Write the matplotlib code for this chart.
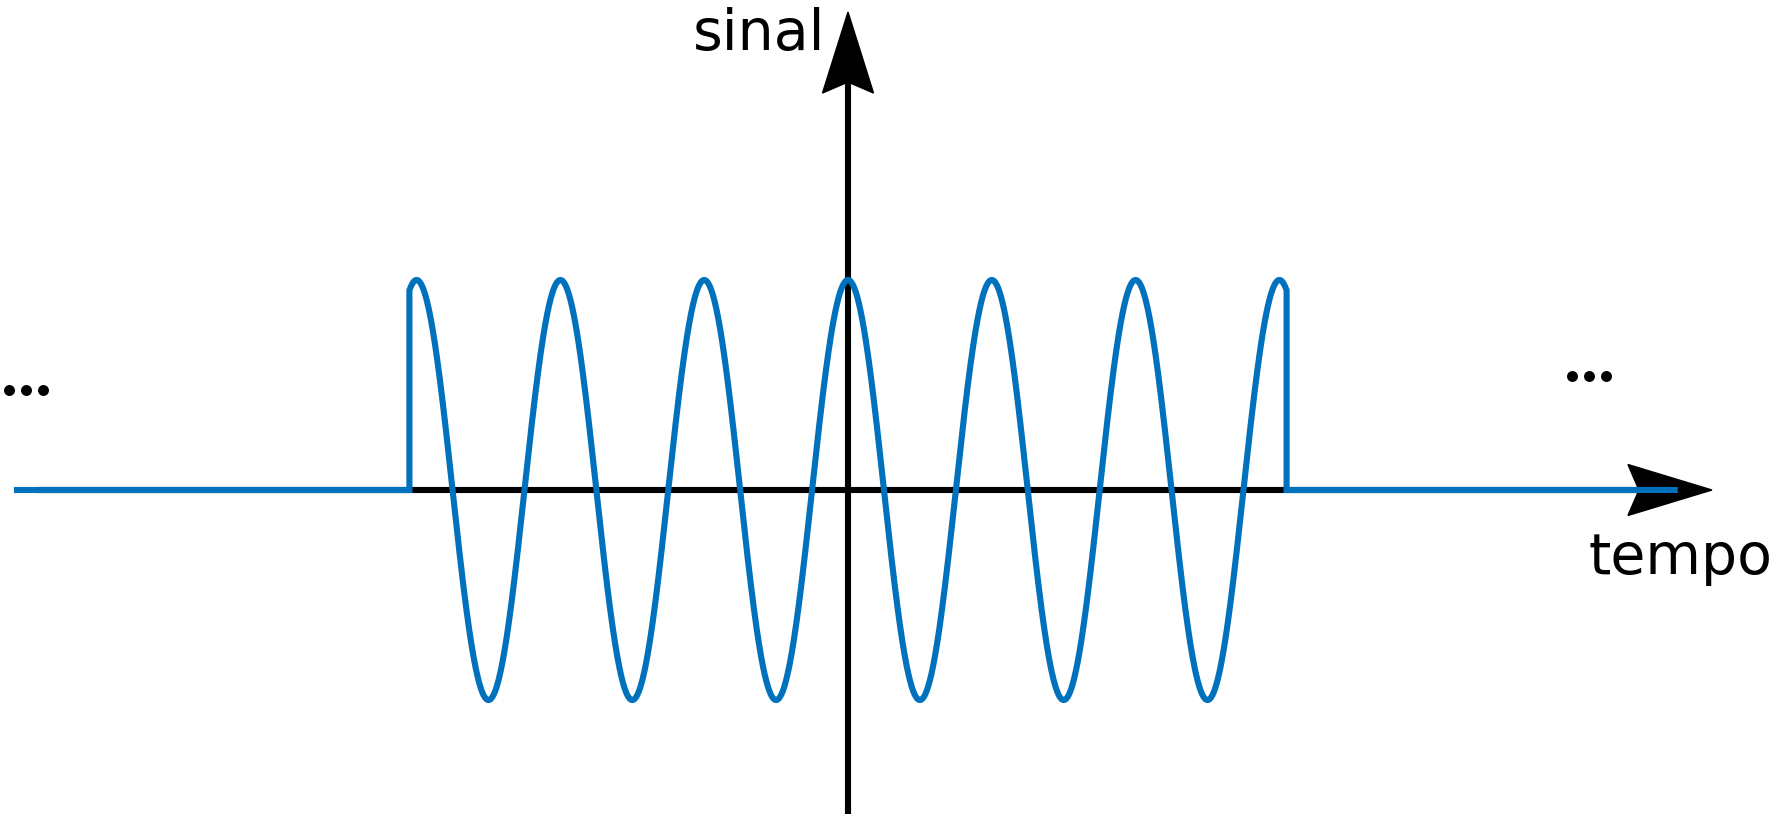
import numpy as np
import matplotlib
matplotlib.use("Agg")
import matplotlib.pyplot as plt
from matplotlib.patches import Polygon

# ---- data (signal parameters, in time units of one period) ----
amplitude = 1.0
period = 1.0
window_start = -3.05
window_end = 3.05
line_start = -5.80
line_end = 5.77
x_axis_label = "tempo"
y_axis_label = "sinal"

# ---- figure ----
W, H, DPI = 17.75, 8.14, 100
fig = plt.figure(figsize=(W, H), dpi=DPI)
ax = fig.add_axes([0, 0, 1, 1])
px_per_t = 143.8
px_per_a = 210.0
x0_px, y0_px = 848.0, 814 - 490.0
ax.set_xlim(-x0_px / px_per_t, (1775 - x0_px) / px_per_t)
ax.set_ylim(-y0_px / px_per_a, (814 - y0_px) / px_per_a)
ax.axis("off")

blue = "#0072BD"
lw = 4.4

# axes (black)
x_tip = 6.008
y_tip = 2.276
ax.plot([-5.647, x_tip - 0.3], [0, 0], color="black", lw=lw, solid_capstyle="butt", zorder=2)
ax.plot([0, 0], [ax.get_ylim()[0], y_tip - 0.3], color="black", lw=lw, solid_capstyle="butt", zorder=2)

# arrowheads (sizes in pixels -> data)
L, Wd, N = 84 / px_per_t, 25.5 / px_per_a, 73 / px_per_t
ax.add_patch(Polygon([[x_tip, 0], [x_tip - L, Wd], [x_tip - N, 0], [x_tip - L, -Wd]],
                     closed=True, color="black", zorder=2))
Lv, Wv, Nv = 81 / px_per_a, 25.5 / px_per_t, 70 / px_per_a
ax.add_patch(Polygon([[0, y_tip], [Wv, y_tip - Lv], [0, y_tip - Nv], [-Wv, y_tip - Lv]],
                     closed=True, color="black", zorder=2))

# windowed cosine signal
t = np.linspace(window_start, window_end, 3000)
s = amplitude * np.cos(2 * np.pi * t / period)
tx = np.concatenate([[line_start, window_start], t, [window_end, line_end]])
sy = np.concatenate([[0.0, 0.0], s, [0.0, 0.0]])
ax.plot(tx, sy, color=blue, lw=lw, solid_joinstyle="miter", solid_capstyle="butt", zorder=3)

# labels
fs = 41
ax.text(-0.16, 2.094, y_axis_label, ha="right", va="baseline", fontsize=fs, family="DejaVu Sans")
ax.text(6.43, -0.40, x_axis_label, ha="right", va="baseline", fontsize=fs, family="DejaVu Sans")

# ellipsis dots ("...") on both sides
dot_step = 17.0 / px_per_t
for cx, cy in [(-5.716, 0.476), (5.154, 0.543)]:
    ax.plot([cx - dot_step, cx, cx + dot_step], [cy] * 3, "o", color="black",
            markersize=7.9, markeredgewidth=0, zorder=4)

fig.savefig("out.png", dpi=DPI, facecolor="white")
